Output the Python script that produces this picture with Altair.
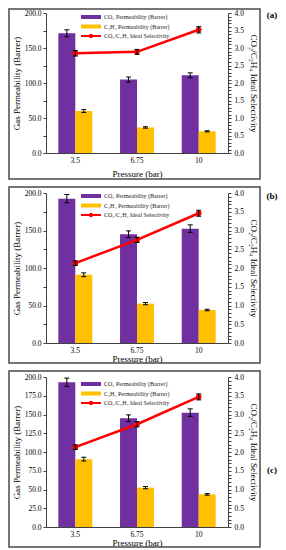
import altair as alt
import pandas as pd

pressures = ["3.5", "6.75", "10"]
series = ["CO₂ Permeability (Barrer)", "C₂H₄ Permeability (Barrer)"]
sel_label = "CO₂/C₂H₄ Ideal Selectivity"
legend_labels = series + [sel_label]

# panel (a)
co2_a = [171.0, 105.0, 111.0]
co2_err_a = [5.0, 3.5, 3.5]
ch4_a = [60.0, 36.5, 31.0]
ch4_err_a = [2.0, 1.0, 0.8]
sel_a = [2.85, 2.89, 3.52]
sel_err_a = [0.08, 0.07, 0.09]

# panel (b)
co2_b = [192.5, 145.0, 152.5]
co2_err_b = [5.5, 4.5, 5.0]
ch4_b = [91.0, 52.5, 44.0]
ch4_err_b = [2.5, 1.5, 1.0]
sel_b = [2.13, 2.75, 3.46]
sel_err_b = [0.06, 0.07, 0.08]

# panel (c)
co2_c = [193.0, 145.0, 152.5]
co2_err_c = [5.5, 4.5, 5.0]
ch4_c = [90.5, 52.5, 43.5]
ch4_err_c = [2.5, 1.5, 1.0]
sel_c = [2.13, 2.74, 3.47]
sel_err_c = [0.06, 0.07, 0.08]

left_ticks_ab = [0, 25, 50, 75, 100, 125, 150, 175, 200]
right_ticks = [round(i * 0.1, 1) for i in range(41)]

FONT = "Liberation Serif"
PURPLE = "#7030A0"
YELLOW = "#FFC000"
RED = "#FF0000"
BAR_PATH = "M-2,-0.4H2V0.4H-2Z"
LINE_PATH = "M-2,-0.2H2V0.2H-2Z M0.45,0 A0.45,0.45 0 1 1 -0.45,0 A0.45,0.45 0 1 1 0.45,0 Z"
CAP = "M-1,0H1"


def panel(co2, co2e, ch4, ch4e, sel, sele, tag, label_step, height,
          top_rel, bottom_rel, x_label_pad, x_title_pad, tag_y, legend_y):
    bars_df = pd.DataFrame({
        "pressure": pressures * 2,
        "series": [series[0]] * 3 + [series[1]] * 3,
        "value": co2 + ch4,
        "err": co2e + ch4e,
    })
    bars_df["lo"] = bars_df["value"] - bars_df["err"]
    bars_df["hi"] = bars_df["value"] + bars_df["err"]

    x_axis = alt.Axis(title="Pressure (bar)", labelAngle=0, ticks=False, tickSize=0,
                      labelPadding=x_label_pad, titlePadding=x_title_pad)
    x = alt.X("pressure:N", sort=pressures,
              scale=alt.Scale(paddingInner=0.45, paddingOuter=0.2), axis=x_axis)
    xo = alt.XOffset("series:N", sort=series,
                     scale=alt.Scale(paddingInner=0, paddingOuter=0))
    left_axis = alt.Axis(
        title="Gas Permeability (Barrer)", orient="left", values=left_ticks_ab,
        labelExpr=f"datum.value % {label_step} == 0 ? format(datum.value, '.1f') : ''",
        tickSize=3, labelPadding=2, titlePadding=2.5)
    yscale = alt.Scale(domain=[0, 200], nice=False)

    base = alt.Chart(bars_df)
    bars = base.mark_bar().encode(
        x=x, xOffset=xo,
        y=alt.Y("value:Q", scale=yscale, axis=left_axis),
        color=alt.Color("series:N", scale=alt.Scale(domain=series, range=[PURPLE, YELLOW]),
                        legend=None))
    rules = base.mark_rule(color="black", strokeWidth=1).encode(
        x=x, xOffset=xo, y=alt.Y("lo:Q", scale=yscale, axis=left_axis), y2="hi:Q")
    cap_lo = base.mark_point(shape=CAP, size=25, color="black", strokeWidth=1, opacity=1).encode(
        x=x, xOffset=xo, y=alt.Y("lo:Q", scale=yscale, axis=left_axis))
    cap_hi = base.mark_point(shape=CAP, size=25, color="black", strokeWidth=1, opacity=1).encode(
        x=x, xOffset=xo, y=alt.Y("hi:Q", scale=yscale, axis=left_axis))
    left = alt.layer(bars, rules, cap_lo, cap_hi)

    sel_df = pd.DataFrame({"pressure": pressures, "sel": sel, "err": sele})
    sel_df["lo"] = sel_df["sel"] - sel_df["err"]
    sel_df["hi"] = sel_df["sel"] + sel_df["err"]
    right_axis = alt.Axis(
        title=sel_label, orient="right", values=right_ticks,
        labelExpr="abs(datum.value * 2 - round(datum.value * 2)) < 0.001 ? format(datum.value, '.1f') : ''",
        tickSize=3, labelPadding=3, titlePadding=5)
    rscale = alt.Scale(domain=[0, 4], nice=False)
    sbase = alt.Chart(sel_df)
    line = sbase.mark_line(color=RED, strokeWidth=2.5).encode(
        x=x, y=alt.Y("sel:Q", scale=rscale, axis=right_axis))
    pts = sbase.mark_circle(color=RED, size=32, opacity=1).encode(
        x=x, y=alt.Y("sel:Q", scale=rscale, axis=right_axis))
    srules = sbase.mark_rule(color="black", strokeWidth=1).encode(
        x=x, y=alt.Y("lo:Q", scale=rscale, axis=right_axis), y2="hi:Q")
    scap_lo = sbase.mark_point(shape=CAP, size=25, color="black", strokeWidth=1, opacity=1).encode(
        x=x, y=alt.Y("lo:Q", scale=rscale, axis=right_axis))
    scap_hi = sbase.mark_point(shape=CAP, size=25, color="black", strokeWidth=1, opacity=1).encode(
        x=x, y=alt.Y("hi:Q", scale=rscale, axis=right_axis))
    right = alt.layer(line, pts, srules, scap_lo, scap_hi)

    leg_df = pd.DataFrame({"entry": legend_labels})
    legend = alt.Legend(orient="none", legendX=40, legendY=legend_y, title=None,
                        labelFont=FONT, labelFontSize=6, labelColor="#222222",
                        symbolSize=100, labelOffset=8, rowPadding=1.5, padding=0,
                        symbolStrokeWidth=0, labelLimit=200)
    leg = alt.Chart(leg_df).mark_point(filled=True, size=0, opacity=1).encode(
        x=alt.value(0), y=alt.value(0),
        color=alt.Color("entry:N", scale=alt.Scale(domain=legend_labels, range=[PURPLE, YELLOW, RED]),
                        legend=legend),
        shape=alt.Shape("entry:N", scale=alt.Scale(domain=legend_labels,
                                                   range=[BAR_PATH, BAR_PATH, LINE_PATH]),
                        legend=legend))

    one = pd.DataFrame({"k": [0]})
    frame = alt.Chart(one).mark_rect(fillOpacity=0, stroke="#4a4a4a", strokeWidth=1.5).encode(
        x=alt.value(-37), x2=alt.value(214), y=alt.value(top_rel), y2=alt.value(bottom_rel))
    label = alt.Chart(one).mark_text(font=FONT, fontSize=9, fontWeight="bold", color="black").encode(
        x=alt.value(226), y=alt.value(tag_y), text=alt.value(tag))

    return alt.layer(left, right, leg, frame, label).resolve_scale(
        y="independent", color="independent", shape="independent"
    ).properties(width=182, height=height)


pa = panel(co2_a, co2_err_a, ch4_a, ch4_err_a, sel_a, sel_err_a, "(a)", 50, 140,
           -4, 166, 3, 6, 2, -1)
pb = panel(co2_b, co2_err_b, ch4_b, ch4_err_b, sel_b, sel_err_b, "(b)", 50, 150,
           -6, 170, 3, 1, 3, -2)
pc = panel(co2_c, co2_err_c, ch4_c, ch4_err_c, sel_c, sel_err_c, "(c)", 25, 150,
           -6, 170, 3, 1, 93, 2)

chart = alt.vconcat(pa, pb, pc, spacing=6).resolve_scale(
    color="independent", shape="independent"
).properties(
    padding={"left": 0, "top": 0, "right": 0, "bottom": 0}
).configure_axis(
    labelFont=FONT, titleFont=FONT, labelFontSize=7.5, titleFontSize=9,
    titleFontWeight="normal", labelColor="black", titleColor="black",
    domainColor="#404040", tickColor="#404040", grid=False
).configure_view(strokeWidth=0)

chart.save("out.html", embed_options={"renderer": "svg", "actions": False})
